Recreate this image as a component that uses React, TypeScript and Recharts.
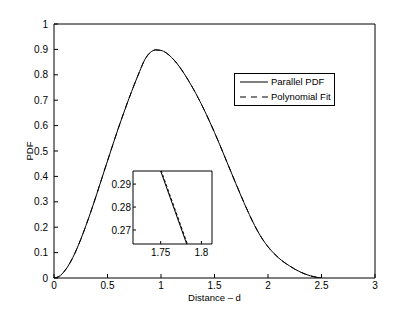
import React from 'react';
import { LineChart, Line, XAxis, YAxis, Legend, Label } from 'recharts';

const FONT = '"Liberation Sans", Arial, Helvetica, sans-serif';

const distance = [
  0, 0.05, 0.1, 0.15, 0.2, 0.25, 0.3, 0.35, 0.4, 0.45,
  0.5, 0.55, 0.6, 0.65, 0.7, 0.75, 0.8, 0.85, 0.9, 0.95,
  1.0, 1.05, 1.1, 1.15, 1.2, 1.25, 1.3, 1.35, 1.4, 1.45,
  1.5, 1.55, 1.6, 1.65, 1.7, 1.75, 1.8, 1.85, 1.9, 1.95,
  2.0, 2.05, 2.1, 2.15, 2.2, 2.25, 2.3, 2.35, 2.4, 2.45, 2.5,
];

const parallelPdf = [
  0, 0.007, 0.028, 0.06, 0.102, 0.152, 0.208, 0.268, 0.331, 0.396,
  0.461, 0.525, 0.588, 0.648, 0.706, 0.761, 0.813, 0.861, 0.888, 0.898,
  0.896, 0.886, 0.868, 0.844, 0.815, 0.782, 0.746, 0.707, 0.665, 0.62,
  0.573, 0.524, 0.473, 0.422, 0.371, 0.321, 0.273, 0.228, 0.187, 0.152,
  0.123, 0.099, 0.079, 0.062, 0.048, 0.035, 0.024, 0.015, 0.008, 0.003, 0,
];

const polynomialFit = [
  0, 0.007, 0.028, 0.06, 0.102, 0.152, 0.208, 0.268, 0.331, 0.396,
  0.461, 0.525, 0.588, 0.648, 0.706, 0.761, 0.813, 0.861, 0.888, 0.898,
  0.896, 0.886, 0.868, 0.844, 0.815, 0.782, 0.746, 0.707, 0.665, 0.62,
  0.573, 0.524, 0.473, 0.422, 0.372, 0.322, 0.274, 0.228, 0.187, 0.152,
  0.123, 0.099, 0.079, 0.062, 0.048, 0.035, 0.024, 0.015, 0.008, 0.003, 0,
];

const xTicks = [0, 0.5, 1, 1.5, 2, 2.5, 3];
const yTicks = [0, 0.1, 0.2, 0.3, 0.4, 0.5, 0.6, 0.7, 0.8, 0.9, 1];

const insetX = [1.74, 1.79];
const insetParallel = [0.3056, 0.2559];
const insetFit = [0.3064, 0.2567];
const insetXTicks = [1.75, 1.8];
const insetYTicks = [0.27, 0.28, 0.29];

const seriesNames = { parallel: 'Parallel PDF', fit: 'Polynomial Fit' };

const tickStyle = { fill: '#000', fontSize: 10, fontFamily: FONT };
const labelStyle = { fill: '#000', fontSize: 9.5, fontFamily: FONT };

const renderLegend = (props: any) => {
  const payload = props.payload || [];
  return (
    <div
      style={{
        boxSizing: 'border-box',
        width: 101,
        height: 33,
        border: '1px solid #000',
        background: '#fff',
        fontFamily: FONT,
        fontSize: 9.5,
        color: '#000',
        paddingTop: 0,
        paddingLeft: 5,
      }}
    >
      {payload.map((entry: any) => (
        <div
          key={entry.value}
          style={{ display: 'flex', alignItems: 'center', height: 15, whiteSpace: 'nowrap' }}
        >
          <svg width={28} height={10} style={{ display: 'block' }}>
            <line
              x1={0}
              y1={5}
              x2={28}
              y2={5}
              stroke="#000"
              strokeWidth={1}
              strokeDasharray={entry.dataKey === 'fit' ? '6 5' : undefined}
            />
          </svg>
          <span style={{ marginLeft: 3 }}>{entry.value}</span>
        </div>
      ))}
    </div>
  );
};

export default function App() {
  const rows = distance.map((d, i) => ({ d, parallel: parallelPdf[i], fit: polynomialFit[i] }));
  const insetRows = insetX.map((d, i) => ({ d, parallel: insetParallel[i], fit: insetFit[i] }));

  return (
    <div
      style={{
        position: 'absolute',
        left: 0,
        top: 0,
        width: 415,
        height: 313,
        background: '#fff',
        fontFamily: FONT,
      }}
    >
      <LineChart width={415} height={313} data={rows} margin={{ top: 14, right: 30, left: 0, bottom: 0 }}>
        <XAxis
          xAxisId="b"
          dataKey="d"
          type="number"
          domain={[0, 3]}
          allowDataOverflow
          ticks={xTicks}
          interval={0}
          height={35}
          tickSize={-4}
          tickMargin={8}
          stroke="#000"
          tick={tickStyle}
        >
          <Label value="Distance – d" position="center" dy={2} style={labelStyle} />
        </XAxis>
        <XAxis
          xAxisId="t"
          orientation="top"
          dataKey="d"
          type="number"
          domain={[0, 3]}
          allowDataOverflow
          ticks={xTicks}
          interval={0}
          height={10}
          tickSize={-4}
          stroke="#000"
          tick={false}
        />
        <YAxis
          yAxisId="l"
          type="number"
          domain={[0, 1]}
          allowDataOverflow
          ticks={yTicks}
          interval={0}
          width={54}
          tickSize={-4}
          tickMargin={10}
          stroke="#000"
          tick={tickStyle}
        >
          <Label
            value="PDF"
            position="insideLeft"
            offset={30}
            angle={-90}
            textAnchor="middle"
            style={labelStyle}
          />
        </YAxis>
        <YAxis
          yAxisId="r"
          orientation="right"
          type="number"
          domain={[0, 1]}
          allowDataOverflow
          ticks={yTicks}
          interval={0}
          width={10}
          tickSize={-4}
          stroke="#000"
          tick={false}
        />
        <Legend
          layout="horizontal"
          verticalAlign="middle"
          align="center"
          wrapperStyle={{ left: 234, top: 73, width: 101, height: 33 }}
          content={renderLegend}
        />
        <Line
          xAxisId="b"
          yAxisId="l"
          dataKey="parallel"
          name={seriesNames.parallel}
          type="monotone"
          stroke="#000"
          strokeWidth={1}
          dot={false}
          isAnimationActive={false}
        />
        <Line
          xAxisId="b"
          yAxisId="l"
          dataKey="fit"
          name={seriesNames.fit}
          type="monotone"
          stroke="#000"
          strokeWidth={1}
          strokeDasharray="6 5"
          dot={false}
          isAnimationActive={false}
        />
      </LineChart>

      <div style={{ position: 'absolute', left: 100, top: 165 }}>
        <LineChart width={120} height={100} data={insetRows} margin={{ top: 0, right: 0, left: 0, bottom: 0 }}>
          <XAxis
            xAxisId="b"
            dataKey="d"
            type="number"
            domain={[1.716, 1.813]}
            allowDataOverflow
            ticks={insetXTicks}
            interval={0}
            height={21}
            tickSize={-3}
            tickMargin={8}
            stroke="#000"
            tick={tickStyle}
          />
          <XAxis
            xAxisId="t"
            orientation="top"
            dataKey="d"
            type="number"
            domain={[1.716, 1.813]}
            allowDataOverflow
            ticks={insetXTicks}
            interval={0}
            height={6}
            tickSize={-3}
            stroke="#000"
            tick={false}
          />
          <YAxis
            yAxisId="l"
            type="number"
            domain={[0.2639, 0.2957]}
            allowDataOverflow
            ticks={insetYTicks}
            interval={0}
            width={33}
            tickSize={-3}
            tickMargin={5}
            stroke="#000"
            tick={tickStyle}
          />
          <YAxis
            yAxisId="r"
            orientation="right"
            type="number"
            domain={[0.2639, 0.2957]}
            allowDataOverflow
            ticks={insetYTicks}
            interval={0}
            width={8}
            tickSize={-3}
            stroke="#000"
            tick={false}
          />
          <Line
            xAxisId="b"
            yAxisId="l"
            dataKey="parallel"
            type="linear"
            stroke="#000"
            strokeWidth={1}
            dot={false}
            isAnimationActive={false}
          />
          <Line
            xAxisId="b"
            yAxisId="l"
            dataKey="fit"
            type="linear"
            stroke="#000"
            strokeWidth={1}
            strokeDasharray="3 2"
            dot={false}
            isAnimationActive={false}
          />
        </LineChart>
      </div>
    </div>
  );
}
